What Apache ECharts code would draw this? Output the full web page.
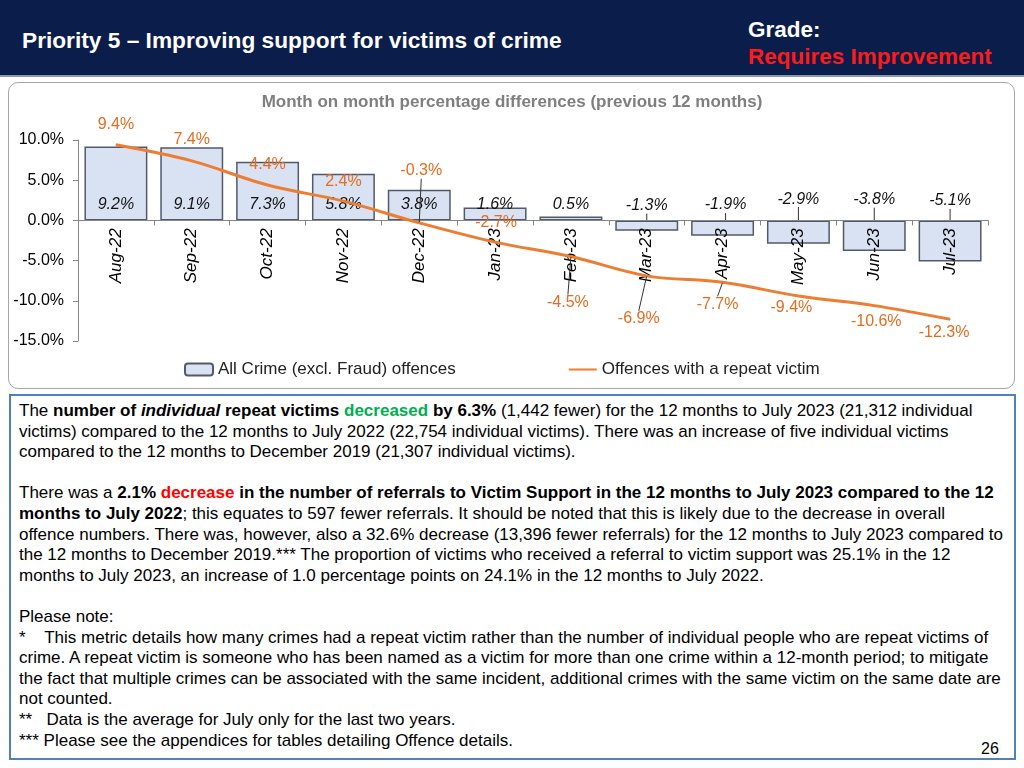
<!DOCTYPE html>
<html>
<head>
<meta charset="utf-8">
<script src="https://cdn.jsdelivr.net/npm/echarts@6/dist/echarts.min.js"></script>
<style>
  html, body { margin:0; padding:0; width:1024px; height:768px; background:#ffffff; overflow:hidden; font-family:"Liberation Sans", Arial, sans-serif; }
  #header { position:absolute; left:0; top:0; width:1024px; height:75px; background:#0b1d4b; border-bottom:2px solid #8798b4; }
  #title { position:absolute; left:22px; top:27px; color:#ffffff; font-weight:bold; font-size:22.7px; white-space:nowrap; }
  #grade { position:absolute; left:748px; top:17px; color:#ffffff; font-weight:bold; font-size:22.5px; white-space:nowrap; }
  #gradeVal { position:absolute; left:748px; top:44px; color:#ff1a1a; font-weight:bold; font-size:22.5px; white-space:nowrap; }
  #chartBox { position:absolute; left:8px; top:82px; width:1005px; height:305px; border:1.5px solid #a6a6a6; border-radius:10px; background:#fff; }
  #chart { position:absolute; left:0; top:82px; width:1024px; height:308px; }
  #textBox { position:absolute; left:9px; top:394px; width:1003px; height:362px; border:2px solid #4f81bd; }
  .ln { position:absolute; left:8px; white-space:nowrap; font-size:17px; color:#000; line-height:20px; }
  .g { color:#00b050; font-weight:bold; }
  .r { color:#ff0000; font-weight:bold; }
  #page { position:absolute; left:981px; top:740px; font-size:16px; color:#000; }
</style>
</head>
<body>
<div id="header">
  <div id="title">Priority 5 – Improving support for victims of crime</div>
  <div id="grade">Grade:</div>
  <div id="gradeVal">Requires Improvement</div>
</div>
<div id="chartBox"></div>
<div id="chart"></div>
<div id="textBox"></div>
<div id="page">26</div>
<script>
// ---- data ----
const categories = ['Aug-22','Sep-22','Oct-22','Nov-22','Dec-22','Jan-23','Feb-23','Mar-23','Apr-23','May-23','Jun-23','Jul-23'];
const allCrimeValues = [9.2, 9.1, 7.3, 5.8, 3.8, 1.6, 0.5, -1.3, -1.9, -2.9, -3.8, -5.1];
const repeatVictimValues = [9.4, 7.4, 4.4, 2.4, -0.3, -2.7, -4.5, -6.9, -7.7, -9.4, -10.6, -12.3];
const yMin = -15, yMax = 10, yStep = 5;
const seriesNames = ['All Crime (excl. Fraud) offences', 'Offences with a repeat victim'];

// ---- label layout (pixel shifts of labels, as placed in the original) ----
const repeatLabelShift = [[0,-20],[0,-21],[0,-20],[0,-20],[2,-52],[1,-20],[-3,46],[-8,43],[-5,22],[-7,12],[2,16],[-6,13]];
const repeatLeader = [false,false,false,false,true,false,true,true,true,false,false,false];
const barLabelShift = [[0,0],[0,0],[0,0],[0,0],[0,0],[0,0],[0,0],[0,-20],[3,-23],[0,-33],[0,-36],[0,-40]];

// ---- text lines ----
const textLines = [
  'The <b>number of <i>individual</i> repeat victims</b> <span class="g">decreased</span> <b>by 6.3%</b> (1,442 fewer) for the 12 months to July 2023 (21,312 individual',
  'victims) compared to the 12 months to July 2022 (22,754 individual victims). There was an increase of five individual victims',
  'compared to the 12 months to December 2019 (21,307 individual victims).',
  '',
  'There was a <b>2.1%</b> <span class="r">decrease</span> <b>in the number of referrals to Victim Support in the 12 months to July 2023 compared to the 12</b>',
  '<b>months to July 2022</b>; this equates to 597 fewer referrals. It should be noted that this is likely due to the decrease in overall',
  'offence numbers. There was, however, also a 32.6% decrease (13,396 fewer referrals) for the 12 months to July 2023 compared to',
  'the 12 months to December 2019.*** The proportion of victims who received a referral to victim support was 25.1% in the 12',
  'months to July 2023, an increase of 1.0 percentage points on 24.1% in the 12 months to July 2022.',
  '',
  'Please note:',
  '*&nbsp;&nbsp;&nbsp; This metric details how many crimes had a repeat victim rather than the number of individual people who are repeat victims of',
  'crime. A repeat victim is someone who has been named as a victim for more than one crime within a 12-month period; to mitigate',
  'the fact that multiple crimes can be associated with the same incident, additional crimes with the same victim on the same date are',
  'not counted.',
  '**&nbsp;&nbsp; Data is the average for July only for the last two years.',
  '*** Please see the appendices for tables detailing Offence details.'
];
const tb = document.getElementById('textBox');
textLines.forEach((t, i) => {
  const d = document.createElement('div');
  d.className = 'ln';
  d.style.top = (5 + i * 20.6) + 'px';
  d.innerHTML = t;
  tb.appendChild(d);
});

// ---- chart ----
const chart = echarts.init(document.getElementById('chart'), null, {renderer:'canvas'});
const FONT = '"Liberation Sans", Arial, sans-serif';
const ORANGE = '#ed7d31';
const GRID = { left: 78, right: 36, top: 58, bottom: 49 };
const gridH = 308 - GRID.top - GRID.bottom;
// x axis sits on the zero line: move it up from the grid bottom
const zeroOffset = -gridH * (0 - yMin) / (yMax - yMin);

const barData = allCrimeValues.map((v) => ({
  value: v,
  label: v >= 0 ? { position: 'insideBottom', distance: 8 } : { position: 'inside' },
  labelLine: { show: v < 0 }
}));
const lineData = repeatVictimValues.map((v, i) => ({
  value: v,
  labelLine: { show: repeatLeader[i] }
}));

chart.setOption({
  animation: false,
  textStyle: { fontFamily: FONT },
  title: {
    text: 'Month on month percentage differences (previous 12 months)',
    left: 'center', top: 7,
    textStyle: { fontSize: 17, fontWeight: 'bold', color: '#7f7f7f', fontFamily: FONT }
  },
  legend: {
    bottom: 7, left: 179,
    itemGap: 112, itemWidth: 28, itemHeight: 12,
    textStyle: { fontSize: 17, color: '#222', fontFamily: FONT },
    data: [
      { name: seriesNames[0] },
      { name: seriesNames[1], itemStyle: { opacity: 0 } }
    ]
  },
  grid: Object.assign({ containLabel: false, outerBoundsMode: 'none' }, GRID),
  xAxis: {
    type: 'category',
    data: categories,
    position: 'bottom',
    offset: zeroOffset,
    z: 3,
    axisLine: { onZero: false, lineStyle: { color: '#868686', width: 1 } },
    axisTick: { show: true, length: 5, inside: false, lineStyle: { color: '#868686' } },
    axisLabel: { rotate: 90, fontSize: 17, fontStyle: 'italic', color: '#000', margin: 8, fontFamily: FONT }
  },
  yAxis: {
    type: 'value',
    min: yMin, max: yMax, interval: yStep,
    splitLine: { show: false },
    axisLine: { show: true, lineStyle: { color: '#868686' } },
    axisTick: { show: true, length: 5, lineStyle: { color: '#868686' } },
    axisLabel: { fontSize: 16, color: '#000', margin: 14, fontFamily: FONT, formatter: (v) => v.toFixed(1) + '%' }
  },
  series: [
    {
      name: seriesNames[0],
      type: 'bar',
      data: barData,
      barCategoryGap: '17%',
      itemStyle: { color: '#d9e2f2', borderColor: '#525a6a', borderWidth: 1.5 },
      label: {
        show: true, fontSize: 16, fontStyle: 'italic', color: '#111', fontFamily: FONT,
        formatter: (p) => p.value.toFixed(1) + '%'
      },
      labelLine: { lineStyle: { color: '#333', width: 1 } },
      labelLayout: (p) => ({ dx: barLabelShift[p.dataIndex][0], dy: barLabelShift[p.dataIndex][1] }),
      z: 2
    },
    {
      name: seriesNames[1],
      type: 'line',
      data: lineData,
      smooth: 0.35,
      symbol: 'circle', symbolSize: 1, showSymbol: true,
      itemStyle: { color: ORANGE },
      lineStyle: { color: ORANGE, width: 3 },
      label: {
        show: true, position: 'inside', fontSize: 16, color: '#e36c1f', fontFamily: FONT,
        formatter: (p) => p.value.toFixed(1) + '%'
      },
      labelLine: { lineStyle: { color: '#333', width: 1 } },
      labelLayout: (p) => ({ dx: repeatLabelShift[p.dataIndex][0], dy: repeatLabelShift[p.dataIndex][1] }),
      z: 4
    }
  ]
});
</script>
</body>
</html>
